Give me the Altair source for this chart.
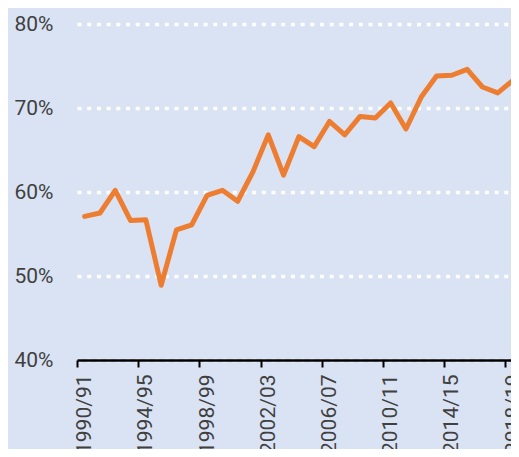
import altair as alt
import pandas as pd

# Category labels (financial years) and series values (%)
years = [
    "1990/91", "1991/92", "1992/93", "1993/94", "1994/95", "1995/96", "1996/97",
    "1997/98", "1998/99", "1999/00", "2000/01", "2001/02", "2002/03", "2003/04",
    "2004/05", "2005/06", "2006/07", "2007/08", "2008/09", "2009/10", "2010/11",
    "2011/12", "2012/13", "2013/14", "2014/15", "2015/16", "2016/17", "2017/18",
    "2018/19",
]
values = [
    57.1, 57.5, 60.2, 56.6, 56.7, 48.9, 55.5, 56.1, 59.6, 60.2, 58.9, 62.4,
    66.8, 62.0, 66.6, 65.4, 68.4, 66.8, 69.0, 68.8, 70.6, 67.5, 71.3, 73.8,
    73.9, 74.6, 72.5, 71.8, 73.3,
]
y_ticks = [40, 50, 60, 70, 80]

df = pd.DataFrame({"idx": list(range(len(years))), "year": years, "value": values})

FONT = "Roboto"
LABEL_COLOR = "#404040"
PLOT_W = 434
PLOT_H = 336
BAND = 15.3
x_max = -0.5 + PLOT_W / BAND

tick_vals = [i - 0.5 for i in range(0, len(years), 4)]
label_array = "[" + ",".join("'" + y + "'" for y in years) + "]"
label_expr = label_array + "[round(datum.value + 0.5)]"

chart = (
    alt.Chart(df)
    .mark_line(color="#ED7D31", strokeWidth=5, strokeCap="round", strokeJoin="round", clip=True)
    .encode(
        x=alt.X(
            "idx:Q",
            scale=alt.Scale(domain=[-0.5, x_max], nice=False, zero=False),
            axis=alt.Axis(
                values=tick_vals,
                labelExpr=label_expr,
                labelAngle=-90,
                labelOffset=BAND / 2,
                labelPadding=7,
                labelFlush=False,
                labelOverlap=False,
                labelFont=FONT,
                labelFontSize=21,
                labelColor=LABEL_COLOR,
                tickSize=7,
                tickWidth=2,
                tickColor="black",
                domainColor="black",
                domainWidth=2.3,
                grid=False,
                title=None,
            ),
        ),
        y=alt.Y(
            "value:Q",
            scale=alt.Scale(domain=[40, 80], nice=False, zero=False),
            axis=alt.Axis(
                values=y_ticks,
                labelExpr="datum.value + '%'",
                ticks=False,
                tickSize=0,
                domain=False,
                grid=True,
                gridColor="white",
                gridWidth=3.5,
                gridDash=[4, 5.7],
                labelPadding=24,
                labelFont=FONT,
                labelFontSize=21,
                labelColor=LABEL_COLOR,
                title=None,
            ),
        ),
    )
    .properties(
        width=PLOT_W,
        height=PLOT_H,
        autosize=alt.AutoSizeParams(type="none"),
        padding={"left": 69, "top": 16, "right": 0, "bottom": 89},
        background="#dae3f3",
    )
    .configure_view(strokeWidth=0)
)

chart.save("out.html", embed_options={"renderer": "svg", "actions": False})
